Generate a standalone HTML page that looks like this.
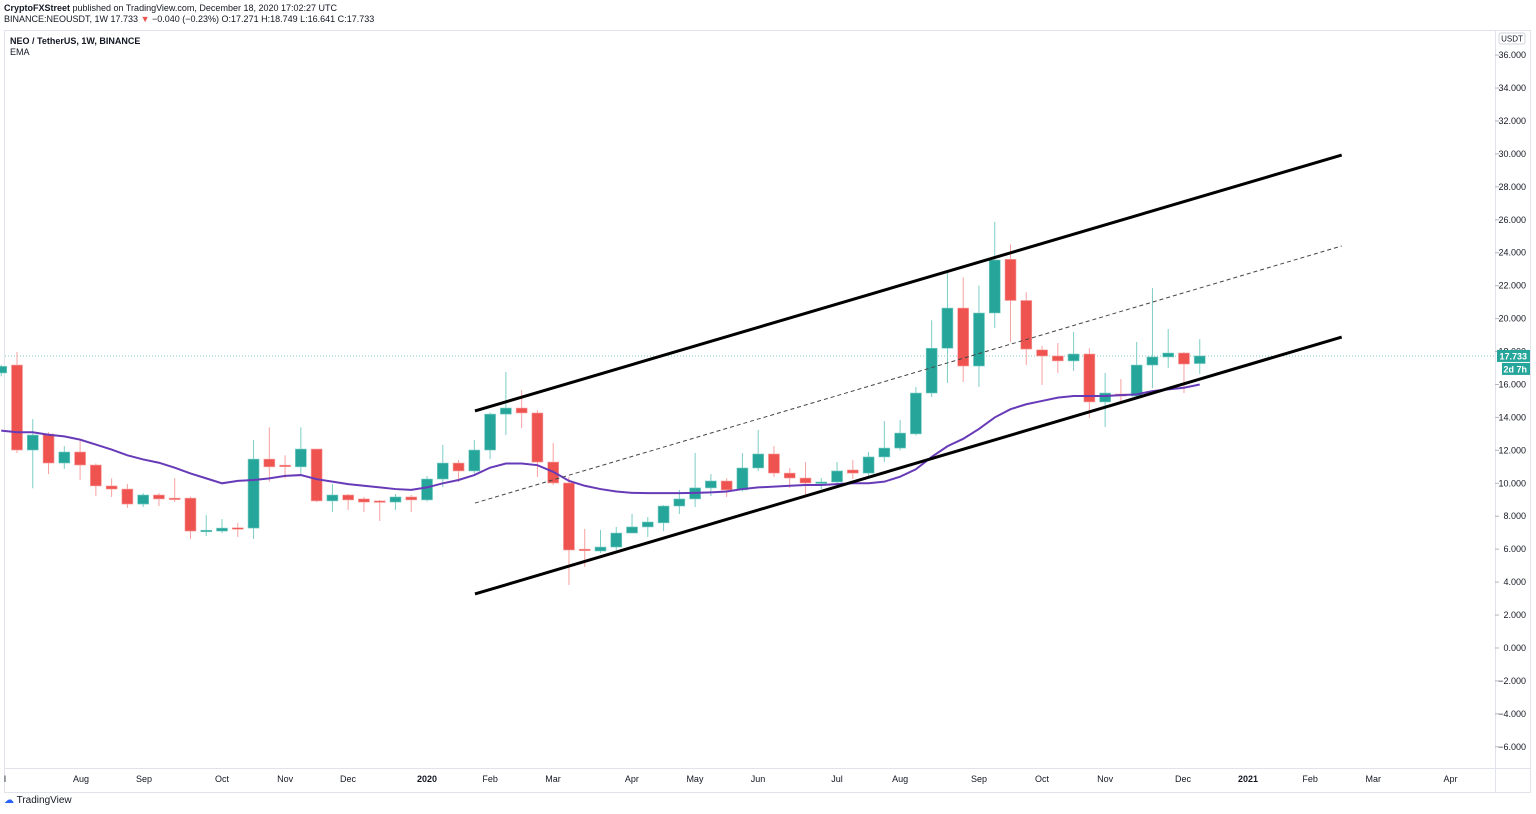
<!DOCTYPE html>
<html><head><meta charset="utf-8"><style>
body{margin:0;width:1536px;height:814px;background:#fff;font-family:"Liberation Sans",sans-serif;overflow:hidden;position:relative}
.t{position:absolute;font-size:9px;color:#131722;white-space:nowrap}
</style></head><body>
<div class="t" style="left:4px;top:3px"><b>CryptoFXStreet</b> published on TradingView.com, December 18, 2020 17:02:27 UTC</div>
<div class="t" style="left:4px;top:14px">BINANCE:NEOUSDT, 1W <span>17.733</span> <span style="color:#ef5350">▼</span> −0.040 (−0.23%) O:<span>17.271</span> H:<span>18.749</span> L:<span>16.641</span> C:<span>17.733</span></div>
<svg id="chart" width="1536" height="814" style="position:absolute;left:0;top:0"></svg>
<div class="t" style="left:10px;top:36px;font-weight:bold">NEO / TetherUS, 1W, BINANCE</div>
<div class="t" style="left:10px;top:47px">EMA</div>
<div class="t" style="left:4px;top:795px;font-size:10px"><span style="color:#2962ff">☁</span> TradingView</div>
<script>
const opens=[16.7,17.18,12.02,12.99,11.23,11.9,11.11,9.84,9.65,8.74,9.29,9.1,9.1,7.1,7.1,7.3,7.28,11.47,11.1,11.0,12.08,8.93,9.29,9.05,8.93,8.86,9.17,8.99,10.26,11.23,10.75,12.02,14.2,14.57,14.27,11.29,10.02,6.0,5.89,6.13,6.98,7.35,7.6,8.62,9.05,9.72,10.14,9.6,10.93,11.78,10.62,10.32,10.0,10.08,10.81,10.62,11.6,12.14,13.0,15.48,18.2,20.64,17.12,20.34,23.6,21.1,18.1,17.73,17.43,17.85,14.94,15.42,15.3,17.18,17.67,17.91,17.271];
const highs=[17.2,17.97,13.9,13.1,12.26,12.57,11.2,10.3,9.96,9.4,9.4,10.3,9.2,8.07,7.83,7.6,12.63,13.4,11.7,13.4,12.1,9.96,9.35,9.17,8.99,9.35,9.29,10.44,12.33,11.41,12.63,14.3,16.76,15.66,14.45,12.45,10.38,7.23,7.17,7.35,8.14,7.95,8.68,9.6,11.84,10.56,10.3,11.84,13.24,12.26,10.93,11.29,10.32,11.29,11.41,11.9,13.78,13.84,15.85,19.9,22.77,22.5,22.0,25.87,24.5,21.6,18.34,18.52,19.19,18.2,16.7,16.33,18.58,21.86,19.37,17.97,18.749];
const lows=[16.5,11.84,9.7,10.56,10.87,10.2,9.23,9.17,8.5,8.56,8.62,8.86,6.62,6.8,6.98,6.74,6.62,10.1,10.3,10.5,8.86,8.26,8.38,8.26,7.71,8.38,8.26,8.9,9.78,10.08,10.6,11.47,12.93,13.36,10.38,9.9,3.83,4.92,5.77,5.95,6.98,6.74,7.1,8.14,8.56,9.23,9.17,9.5,10.75,10.38,9.72,9.29,9.65,9.9,10.26,10.3,11.3,12.0,12.9,15.24,16.09,16.15,15.85,19.43,18.58,17.18,15.97,16.7,16.82,13.96,13.42,14.94,15.24,15.78,17.0,15.48,16.641];
const closes=[17.1,12.02,12.93,11.23,11.9,11.11,9.84,9.65,8.74,9.29,9.05,9.05,7.1,7.15,7.28,7.25,11.47,11.0,11.05,12.08,8.93,9.29,8.99,8.86,8.86,9.17,8.99,10.26,11.23,10.75,12.02,14.2,14.57,14.27,11.29,10.02,5.95,5.95,6.13,6.98,7.35,7.65,8.62,9.05,9.72,10.14,9.6,10.93,11.78,10.62,10.32,10.02,10.08,10.75,10.62,11.6,12.14,13.05,15.48,18.2,20.64,17.12,20.34,23.56,21.1,18.15,17.73,17.43,17.85,14.94,15.48,15.3,17.18,17.67,17.91,17.24,17.733];
const ema=[13.2,13.1,13.1,12.95,12.85,12.65,12.35,12.05,11.7,11.45,11.25,10.95,10.6,10.3,10.0,10.15,10.2,10.3,10.45,10.5,10.25,10.1,9.95,9.85,9.75,9.65,9.6,9.75,10.0,10.2,10.5,10.95,11.2,11.2,11.1,10.7,10.15,9.85,9.65,9.5,9.42,9.4,9.4,9.4,9.42,9.45,9.5,9.65,9.75,9.8,9.85,9.9,9.9,9.95,10.0,10.0,10.1,10.4,10.85,11.6,12.25,12.7,13.3,14.0,14.5,14.8,15.0,15.2,15.3,15.3,15.3,15.35,15.4,15.6,15.7,15.8,16.0];
const yTicks=[-6,-4,-2,0,2,4,6,8,10,12,14,16,18,20,22,24,26,28,30,32,34,36];
const monthLabels=["l","Aug","Sep","Oct","Nov","Dec","2020","Feb","Mar","Apr","May","Jun","Jul","Aug","Sep","Oct","Nov","Dec","2021","Feb","Mar","Apr"];
const monthIdx=[0.24,5.06,9.05,14.0,18.0,21.99,27.0,31.0,34.99,39.99,43.99,47.99,53.0,57.0,62.0,66.0,70.0,74.94,79.06,83.0,87.0,91.9];
const upperLine=[[30.04,14.39],[85,29.93]];
const lowerLine=[[30.04,3.28],[85,18.88]];
const midLine=[[30.04,8.80],[85,24.41]];
const lastPrice=17.733;

const NS="http://www.w3.org/2000/svg",svg=document.getElementById('chart');
const X=i=>1.23+i*15.77, Y=p=>648-p*16.47;
function mk(t,a,p){const e=document.createElementNS(NS,t);for(const k in a)e.setAttribute(k,a[k]);(p||svg).appendChild(e);return e;}
let e;
e=mk('rect',{x:4.5,y:30.5,width:1526,height:762,fill:'none',stroke:'#e0e3eb'});


e=mk('line',{x1:1495.5,y1:30,x2:1495.5,y2:793,stroke:'#e0e3eb'});


e=mk('line',{x1:5,y1:768.5,x2:1531,y2:768.5,stroke:'#e0e3eb'});


yTicks.forEach(v=>{
 e=mk('line',{x1:1495,x2:1499,y1:Y(v),y2:Y(v),stroke:'#b2b5be'});
 
 
 e=mk('text',{x:1526,y:Y(v)+3,'text-anchor':'end','font-size':9,fill:'#131722'});
 e.textContent=(v<0?'−'+Math.abs(v):v).toString()+'.000';
 
 
});
e=mk('rect',{x:1499,y:33,width:26,height:11,rx:2,fill:'#fff',stroke:'#d1d4dc'});


e=mk('text',{x:1512,y:41.5,'text-anchor':'middle','font-size':8,fill:'#131722'});e.textContent='USDT';


monthLabels.forEach((m,k)=>{
 e=mk('text',{x:X(monthIdx[k]),y:782,'text-anchor':'middle','font-size':9,fill:'#131722','font-weight':(m.length==4?'bold':'normal')});
 e.textContent=m;
 
 
});
e=mk('line',{x1:5,x2:1495,y1:Y(lastPrice),y2:Y(lastPrice),stroke:'#26a69a','stroke-dasharray':'1 2','stroke-width':1,opacity:.6});


opens.forEach((o,i)=>{
 const c=closes[i],up=c>=o,col=up?'#26a69a':'#ef5350',x=X(i);
 e=mk('line',{x1:x,x2:x,y1:Y(highs[i]),y2:Y(lows[i]),stroke:up?'#7ccdc5':'#f7a1a0','stroke-width':1});
 
 
 const t=Y(Math.max(o,c)),h=Math.max(1.5,Math.abs(Y(o)-Y(c)));
 e=mk('rect',{x:x-5.5,y:t,width:11,height:h,fill:col,stroke:up?'#7ccdc5':'#f7a1a0','stroke-width':.6});
 
 
});
e=mk('polyline',{points:ema.map((v,i)=>X(i)+','+Y(v)).join(' '),fill:'none',stroke:'#673ab7','stroke-width':2});


[[upperLine,'channel-upper',3,''],[lowerLine,'channel-lower',3,''],[midLine,'channel-mid',1,'4 3']].forEach(([L,n,w,d])=>{
 e=mk('line',{x1:X(L[0][0]),y1:Y(L[0][1]),x2:X(L[1][0]),y2:Y(L[1][1]),stroke:n=='channel-mid'?'#444':'#000','stroke-width':w,'stroke-dasharray':d});
 
 
});
e=mk('rect',{x:1497,y:Y(lastPrice)-6,width:33,height:12,fill:'#26a69a'});


e=mk('text',{x:1527,y:Y(lastPrice)+3.5,'text-anchor':'end','font-size':9,fill:'#fff','font-weight':'bold'});e.textContent=lastPrice.toFixed(3);


e=mk('rect',{x:1502,y:Y(lastPrice)+7,width:28,height:12,fill:'#26a69a'});


e=mk('text',{x:1527,y:Y(lastPrice)+16.5,'text-anchor':'end','font-size':9,fill:'#fff','font-weight':'bold'});e.textContent='2d 7h';


</script>
</body></html>
